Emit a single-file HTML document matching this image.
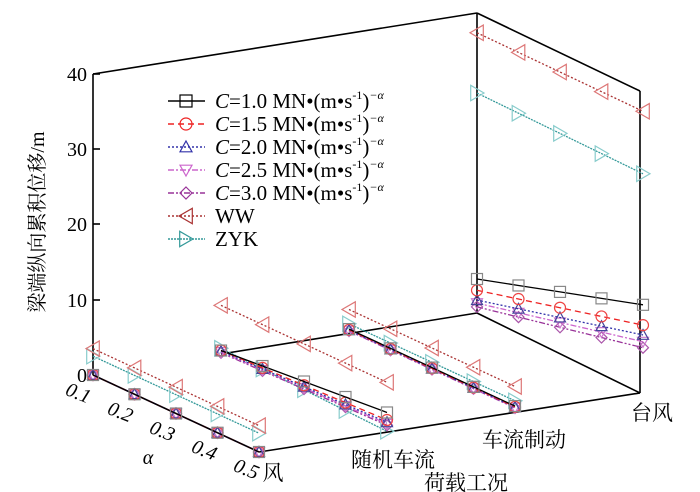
<!DOCTYPE html>
<html><head><meta charset="utf-8">
<style>
html,body{margin:0;padding:0;background:#fff;}
svg{display:block;}
text{font-family:"Liberation Serif","Noto Serif CJK SC","Noto Sans CJK SC",serif;}
</style></head>
<body>
<svg id="s" width="700" height="492" viewBox="0 0 700 492" xmlns="http://www.w3.org/2000/svg">
<rect width="700" height="492" fill="#fff"/>
<g stroke="#000" stroke-width="1.6" fill="none">
<line x1="93" y1="74" x2="93" y2="375"/>
<line x1="93" y1="74" x2="477" y2="13"/>
<line x1="477" y1="13" x2="477" y2="313"/>
<line x1="477" y1="13" x2="640" y2="91"/>
<line x1="640" y1="91" x2="640" y2="393"/>
<line x1="93" y1="375" x2="259" y2="452"/>
<line x1="259" y1="452" x2="640" y2="393"/>
<line x1="221" y1="354" x2="477" y2="313"/>
<line x1="477" y1="313" x2="640" y2="393"/>
<line x1="93" y1="300" x2="100" y2="300"/>
<line x1="93" y1="224" x2="100" y2="224"/>
<line x1="93" y1="149" x2="100" y2="149"/>
<line x1="93" y1="74" x2="100" y2="74"/>
</g>
<g font-size="20" text-anchor="end">
<text x="87" y="382">0</text><text x="87" y="307">10</text><text x="87" y="231">20</text><text x="87" y="156">30</text><text x="87" y="81">40</text>
</g>
<text transform="translate(44,222) rotate(-90)" font-size="20" text-anchor="middle">梁端纵向累积位移/m</text>
<g font-size="20" font-style="italic" text-anchor="middle">
<text transform="translate(76,399) rotate(22)">0.1</text>
<text transform="translate(118,418) rotate(22)">0.2</text>
<text transform="translate(160,437) rotate(22)">0.3</text>
<text transform="translate(202,456) rotate(22)">0.4</text>
<text transform="translate(244,475) rotate(22)">0.5</text>
<text x="148" y="464">α</text>
</g>
<g font-size="21" text-anchor="middle">
<text x="273" y="480">风</text>
<text x="393" y="467">随机车流</text>
<text x="524" y="447">车流制动</text>
<text x="652" y="420">台风</text>
<text x="466" y="490">荷载工况</text>
</g>
<g id="data"></g>
<g id="leg"></g>
</svg>
<script>
var NS="http://www.w3.org/2000/svg";
function B(j,i){return [93+41.5*i+128*j,375+19.25*i-20.7*j];}
function P(j,i,z){var b=B(j,i);return [b[0],b[1]-7.53*z];}
function lin(a,b){return [0,1,2,3,4].map(function(i){return a+(b-a)*i/4;});}
function cst(a){return lin(a,a);}
var S=[
 {c:"#000",m:"#888",d:"",mk:"sq",z:[cst(0),lin(0.5,2.5),cst(0.6),lin(4.5,11.3)]},
 {c:"#e22",m:"#e44",d:"6,4",mk:"ci",z:[cst(0),lin(0.5,1.5),cst(0.5),lin(3.0,8.6)]},
 {c:"#33a",m:"#449",d:"2,2",mk:"tu",z:[cst(0),lin(0.4,1.2),cst(0.45),lin(1.7,7.3)]},
 {c:"#c6c",m:"#c7c",d:"6,2,2,2",mk:"td",z:[cst(0),lin(0.3,1.0),cst(0.4),lin(1.3,6.4)]},
 {c:"#939",m:"#a5a",d:"6,2,2,2,2,2",mk:"di",z:[cst(0),lin(0.2,0.8),cst(0.35),lin(0.8,5.6)]},
 {c:"#a33",m:"#d77",d:"2,2",mk:"tl",z:[cst(3.5),cst(6.5),cst(3.2),lin(37.2,37.0)]},
 {c:"#399",m:"#8cc",d:"2,1",mk:"tr",z:[cst(2.5),lin(0.8,0.0),cst(1.3),lin(29.2,28.7)]}
];
function marker(g,t,x,y,col,r){
 var e;
 if(t=="sq"){e=document.createElementNS(NS,"rect");e.setAttribute("x",x-r);e.setAttribute("y",y-r);e.setAttribute("width",2*r);e.setAttribute("height",2*r);}
 else if(t=="ci"){e=document.createElementNS(NS,"circle");e.setAttribute("cx",x);e.setAttribute("cy",y);e.setAttribute("r",r);}
 else{var p;
  if(t=="tu")p=[[x,y-r],[x+r,y+r*0.8],[x-r,y+r*0.8]];
  if(t=="td")p=[[x,y+r],[x+r,y-r*0.8],[x-r,y-r*0.8]];
  if(t=="di")p=[[x,y-r],[x+r,y],[x,y+r],[x-r,y]];
  if(t=="tl")p=[[x-r,y],[x+r*0.9,y-r*1.1],[x+r*0.9,y+r*1.1]];
  if(t=="tr")p=[[x+r,y],[x-r*0.9,y-r*1.1],[x-r*0.9,y+r*1.1]];
  e=document.createElementNS(NS,"polygon");e.setAttribute("points",p.map(function(q){return q.join(",");}).join(" "));}
 e.setAttribute("fill","none");e.setAttribute("stroke",col);e.setAttribute("stroke-width","1.2");
 g.appendChild(e);
}
var g=document.getElementById("data");
for(var s=S.length-1;s>=0;s--){var o=S[s];
 for(var j=0;j<4;j++){
  var pts=[];for(var i=0;i<5;i++)pts.push(P(j,i,o.z[j][i]));
  var pl=document.createElementNS(NS,"polyline");
  pl.setAttribute("points",pts.map(function(q){return q.join(",");}).join(" "));
  pl.setAttribute("fill","none");pl.setAttribute("stroke",o.c);pl.setAttribute("stroke-width","1.3");
  if(o.d)pl.setAttribute("stroke-dasharray",o.d);
  g.appendChild(pl);
  pts.forEach(function(q){marker(g,o.mk,q[0],q[1],o.m,o.mk=="tl"||o.mk=="tr"?7:5.5);});
 }
}
var lg=document.getElementById("leg");
var labels=["1.0","1.5","2.0","2.5","3.0"];
var ys=[101,124,147,170,193,216,239];
for(var k=0;k<7;k++){var o=S[k],y=ys[k];
 var l=document.createElementNS(NS,"line");l.setAttribute("x1",168);l.setAttribute("x2",205);l.setAttribute("y1",y);l.setAttribute("y2",y);
 l.setAttribute("stroke",o.c);l.setAttribute("stroke-width","1.5");if(o.d)l.setAttribute("stroke-dasharray",o.d);lg.appendChild(l);
 marker(lg,o.mk,186,y,o.c,o.mk=="tl"||o.mk=="tr"?7:6);
 var t=document.createElementNS(NS,"text");t.setAttribute("x",215);t.setAttribute("y",y+7);t.setAttribute("font-size","21");
 if(k<5){t.innerHTML='<tspan font-style="italic">C</tspan>='+labels[k]+' MN•(m•s<tspan font-size="12" dy="-9">-1</tspan><tspan dy="9">)</tspan><tspan font-size="12" dy="-9" font-style="italic">−α</tspan>';}
 else t.textContent=k==5?"WW":"ZYK";
 lg.appendChild(t);
}
</script>
</body></html>
